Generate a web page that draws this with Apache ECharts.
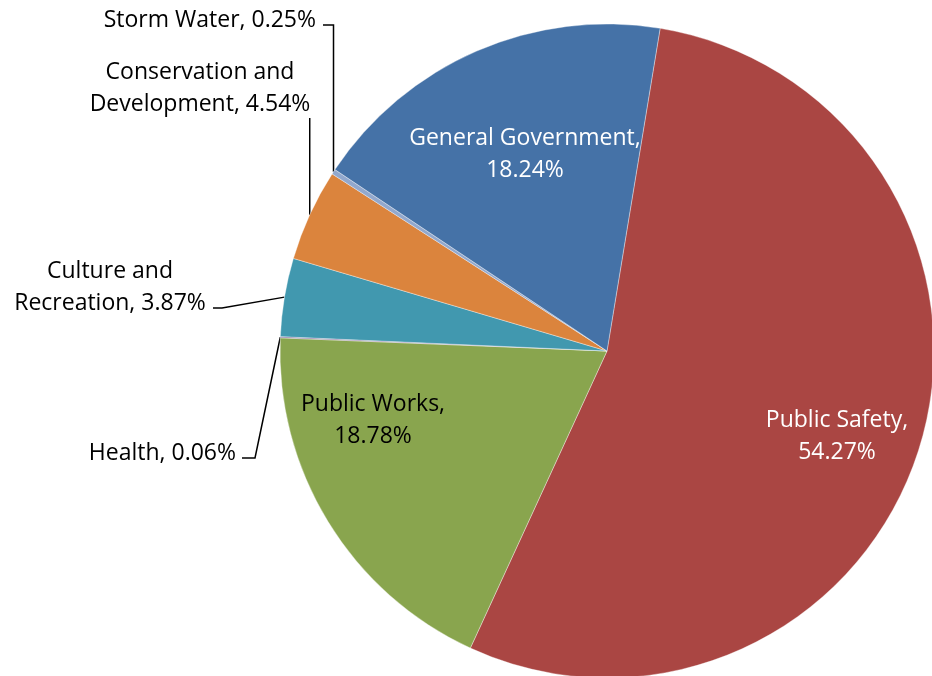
<!DOCTYPE html>
<html><head><meta charset="utf-8">
<script src="https://cdn.jsdelivr.net/npm/echarts@6/dist/echarts.min.js"></script>
<style>html,body{margin:0;padding:0;background:#fff}#c{width:932px;height:676px}</style>
</head><body><div id="c"></div>
<script>
const categories = ['Public Safety','Public Works','Health','Culture and Recreation','Conservation and Development','Storm Water','General Government'];
const shares = [54.27, 18.78, 0.06, 3.87, 4.54, 0.25, 18.24];
const colors = ['#AA4643','#89A54E','#80699B','#4198AF','#DB843D','#92A8CD','#4572A7'];
const insideLabel = [true, true, false, false, false, false, true];
const labelColors = ['#ffffff','#000000','#000000','#000000','#000000','#000000','#ffffff'];

// label placement (layout only)
const labelPlace = [
  {x:837, y:436, align:'center'},
  {x:373, y:420, align:'center'},
  {x:236, y:453, align:'right',  line:p => [p, [255,458], [242,458]]},
  {x:110, y:287, align:'center', line:p => [p, [222,308], [213,308]]},
  {x:200, y:88,  align:'center', line:p => [p, [p[0],118]]},
  {x:316, y:20,  align:'right',  line:p => [p, [p[0],25], [323,25]]},
  {x:525, y:154, align:'center'}
];

const FONT = '"Open Sans"';
const data = categories.map((name, i) => ({
  name: name,
  value: shares[i],
  itemStyle: {color: colors[i]},
  label: {
    position: insideLabel[i] ? 'inside' : 'outside',
    color: labelColors[i]
  },
  labelLine: {show: !insideLabel[i]}
}));

const chart = echarts.init(document.getElementById('c'), null, {renderer: 'canvas'});
chart.setOption({
  animation: false,
  backgroundColor: '#ffffff',
  series: [{
    type: 'pie',
    center: [607, 351],
    radius: 327,
    startAngle: 80.65,
    clockwise: true,
    avoidLabelOverlap: false,
    minAngle: 0,
    itemStyle: {borderColor: 'rgba(255,255,255,0.6)', borderWidth: 0.6},
    label: {
      show: true,
      fontFamily: FONT,
      fontSize: 23,
      lineHeight: 32,
      formatter: p => insideLabel[p.dataIndex]
        ? p.name + ',\n' + p.value + '%'
        : p.name.replace(' and ', ' and\n') + ', ' + p.value + '%'
    },
    labelLine: {
      show: true,
      length: 10,
      length2: 10,
      smooth: false,
      lineStyle: {color: '#000000', width: 1.5}
    },
    emphasis: {disabled: true},
    labelLayout: params => {
      const L = labelPlace[params.dataIndex];
      const out = {x: L.x, y: L.y, align: L.align, verticalAlign: 'middle'};
      if (L.line && params.labelLinePoints) {
        out.labelLinePoints = L.line(params.labelLinePoints[0]);
      }
      return out;
    },
    data: data
  }]
});
</script>
</body></html>
